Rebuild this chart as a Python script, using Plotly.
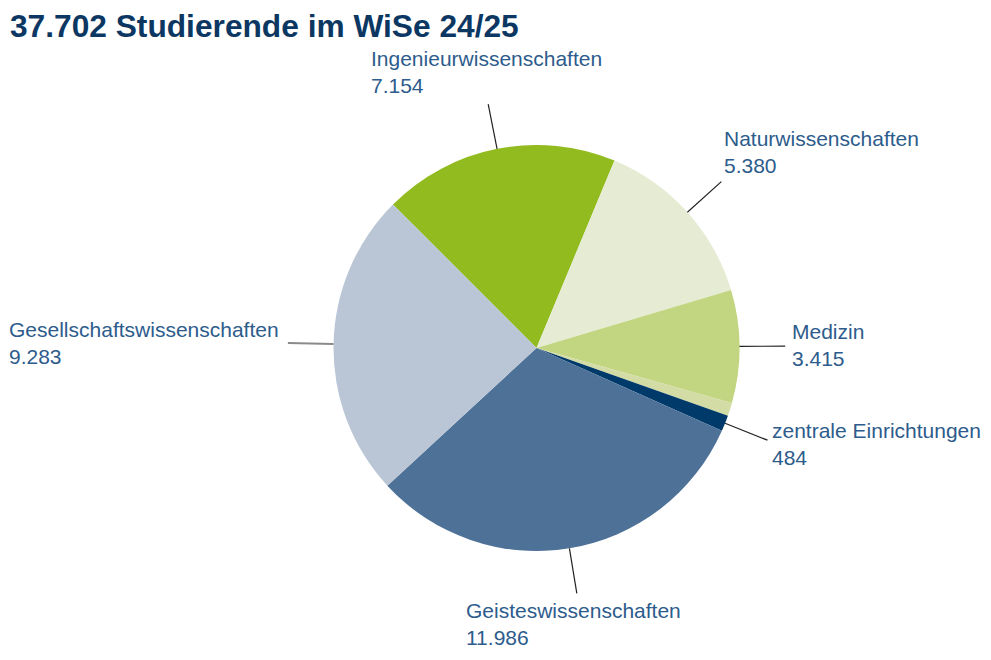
import math
import plotly.graph_objects as go

# ---- data ----
categories = ["Ingenieurwissenschaften", "Naturwissenschaften", "Medizin", "",
              "zentrale Einrichtungen", "Geisteswissenschaften", "Gesellschaftswissenschaften"]
values = [7154, 5380, 3415, 400, 484, 11986, 9283]
value_labels = ["7.154", "5.380", "3.415", "", "484", "11.986", "9.283"]
title_text = "37.702 Studierende im WiSe 24/25"

# ---- style ----
colors = ["#92bb1f", "#e6ecd3", "#c2d580", "#d3dca4", "#003a6a", "#4e7198", "#bac6d6"]
OFF = 8  # page body margin
W, H = 991 - OFF, 660 - OFF
cx, cy, R = 536.5 - OFF, 348.0 - OFF, 203.0
rotation = -45
# per-label anchoring (xanchor, yanchor, xshift, yshift) ; None = no label
label_style = [
    ("center", "bottom", -2, 5),
    ("left", "bottom", 1, 3),
    ("left", "middle", 5, 1),
    None,
    ("left", "middle", 3, -4),
    ("center", "top", -3, -4),
    ("right", "middle", -7, 0),
]
line_colors = ["#222222", "#222222", "#222222", None, "#222222", "#222222", "#8a8a8a"]
line_widths = [1.2, 1.2, 1.2, 0, 1.2, 1.2, 2]
text_color = "#2d5c8c"

dom_x = [(cx - R) / W, (cx + R) / W]
dom_y = [1 - (cy + R) / H, 1 - (cy - R) / H]

fig = go.Figure(go.Pie(
    labels=[c if c else " " for c in categories],
    values=values,
    sort=False,
    direction="clockwise",
    rotation=rotation,
    marker=dict(colors=colors, line=dict(width=0)),
    textinfo="none",
    hoverinfo="label+value",
    domain=dict(x=dom_x, y=dom_y),
    showlegend=False,
))

total = sum(values)
shapes = []
annotations = []
acc = 0.0
r_out = R * 1.225
for i, v in enumerate(values):
    mid = rotation + (acc + v / 2) / total * 360.0
    acc += v
    if label_style[i] is None:
        continue
    a = math.radians(mid)
    x0 = cx + R * math.sin(a)
    y0 = cy - R * math.cos(a)
    x1 = cx + r_out * math.sin(a)
    y1 = cy - r_out * math.cos(a)
    shapes.append(dict(type="line", xref="paper", yref="paper",
                       x0=x0 / W, y0=1 - y0 / H, x1=x1 / W, y1=1 - y1 / H,
                       line=dict(color=line_colors[i], width=line_widths[i])))
    xa, ya, xs, ys = label_style[i]
    annotations.append(dict(
        x=x1 / W, y=1 - y1 / H, xref="paper", yref="paper",
        text=f"{categories[i]}<br>{value_labels[i]}",
        showarrow=False, xanchor=xa, yanchor=ya, align="left",
        xshift=xs, yshift=ys,
        font=dict(family="Liberation Sans, Arial, sans-serif", size=21, color=text_color),
    ))

annotations.append(dict(
    x=0, y=1, xref="paper", yref="paper",
    text=f"<b>{title_text}</b>", showarrow=False, xanchor="left", yanchor="top",
    xshift=0, yshift=2,
    font=dict(family="Liberation Sans, Arial, sans-serif", size=31.7, color="#0b3762"),
))

fig.update_layout(
    width=W, height=H,
    margin=dict(l=0, r=0, t=0, b=0),
    paper_bgcolor="white", plot_bgcolor="white",
    shapes=shapes, annotations=annotations,
)
fig.write_html("out.html")
